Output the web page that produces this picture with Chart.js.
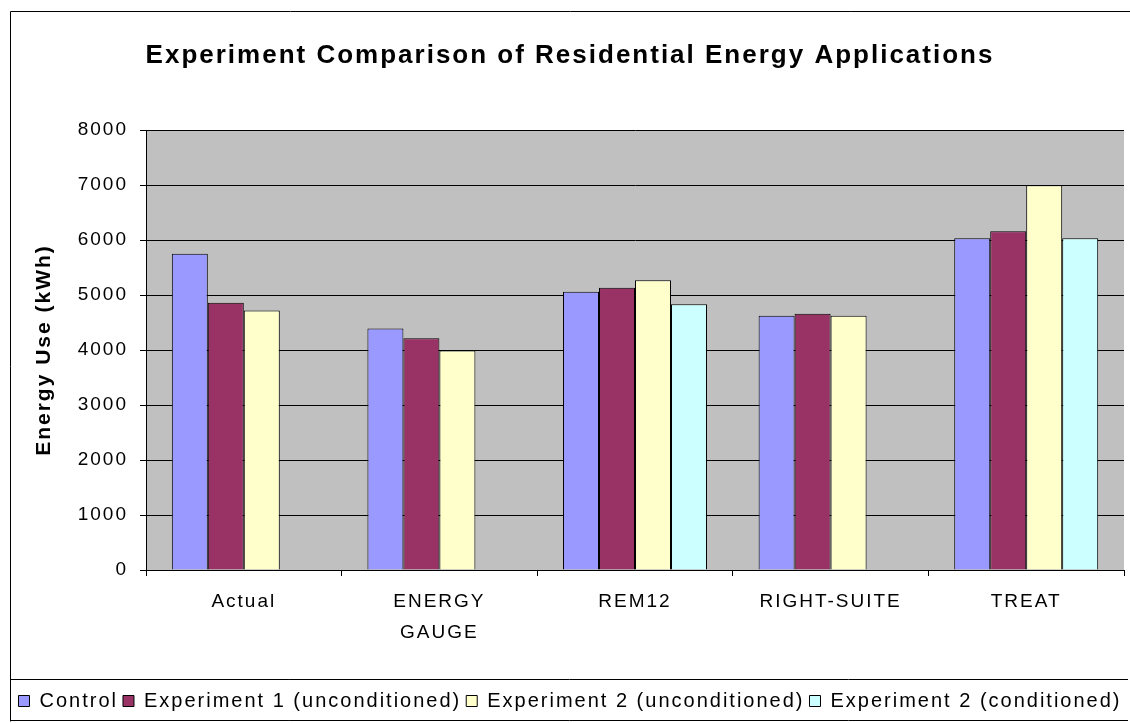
<!DOCTYPE html>
<html>
<head>
<meta charset="utf-8">
<script src="https://cdn.jsdelivr.net/npm/chart.js@4"></script>
<style>
  html, body { margin: 0; padding: 0; background: #ffffff; }
  canvas { display: block; }
</style>
</head>
<body>
<canvas id="c" width="1130" height="723"></canvas>
<script>
const categories = [['Actual'], ['ENERGY', 'GAUGE'], ['REM12'], ['RIGHT-SUITE'], ['TREAT']];
const seriesNames = ['Control', 'Experiment 1 (unconditioned)', 'Experiment 2 (unconditioned)', 'Experiment 2 (conditioned)'];
const controlValues = [5750, 4390, 5060, 4625, 6030];
const exp1Values = [4860, 4215, 5130, 4660, 6160];
const exp2UncondValues = [4720, 3990, 5270, 4625, 6995];
const exp2CondValues = [null, null, 4830, null, 6030];
const yTickValues = [0, 1000, 2000, 3000, 4000, 5000, 6000, 7000, 8000];

const FONT = "'Liberation Sans', Arial, sans-serif";
const SPACING = '2px';

const spacingPlugin = {
  id: 'spacing',
  beforeInit(chart) { chart.ctx.letterSpacing = SPACING; },
  beforeUpdate(chart) { chart.ctx.letterSpacing = SPACING; },
  beforeLayout(chart) { chart.ctx.letterSpacing = SPACING; },
  beforeDraw(chart) {
    const ctx = chart.ctx;
    ctx.letterSpacing = SPACING;
    const a = chart.chartArea;
    ctx.save();
    ctx.fillStyle = '#C0C0C0';
    ctx.fillRect(a.left, a.top, a.right - a.left, a.bottom - a.top);
    ctx.restore();
  },
  afterDraw(chart) {
    const ctx = chart.ctx;
    ctx.save();
    ctx.strokeStyle = '#000000';
    ctx.lineWidth = 1;
    ctx.beginPath();
    // outer chart border
    ctx.moveTo(10.5, 721.5); ctx.lineTo(10.5, 11.5); ctx.lineTo(1130, 11.5);
    // legend box
    ctx.moveTo(10.5, 679.5); ctx.lineTo(1128, 679.5);
    ctx.moveTo(10.5, 720.5); ctx.lineTo(1128, 720.5);
    ctx.stroke();
    ctx.restore();
  }
};

const colors = ['#9999FF', '#993366', '#FFFFCC', '#CCFFFF'];
const seriesValues = [controlValues, exp1Values, exp2UncondValues, exp2CondValues];

new Chart(document.getElementById('c'), {
  type: 'bar',
  data: {
    labels: categories,
    datasets: seriesValues.map((vals, i) => ({
      label: seriesNames[i],
      data: vals,
      backgroundColor: colors[i],
      borderColor: '#000000',
      borderWidth: 1,
      categoryPercentage: 0.736,
      barPercentage: 1.0,
      yAxisID: 'y'
    }))
  },
  plugins: [spacingPlugin],
  options: {
    responsive: false,
    animation: false,
    devicePixelRatio: 1,
    layout: { padding: { left: 10, right: 0, top: 11, bottom: 2 } },
    plugins: {
      tooltip: { enabled: false },
      title: {
        display: true,
        text: 'Experiment Comparison of Residential Energy Applications',
        color: '#000000',
        font: { family: FONT, size: 26, weight: 'bold', lineHeight: 1.2 },
        padding: { top: 29.4, bottom: 58.4 }
      },
      legend: {
        position: 'bottom',
        maxHeight: 37,
        labels: {
          color: '#000000',
          font: { family: FONT, size: 20 },
          boxWidth: 11,
          boxHeight: 11,
          padding: 5
        }
      }
    },
    scales: {
      x: {
        grid: {
          offset: true,
          drawOnChartArea: false,
          drawTicks: true,
          tickLength: 6,
          color: '#000000'
        },
        border: { color: '#000000', width: 1 },
        ticks: {
          color: '#000000',
          font: { family: FONT, size: 19, lineHeight: 1.63 },
          padding: 10,
          maxRotation: 0,
          autoSkip: false
        },
        afterFit(scale) { scale.height = 116; }
      },
      y: {
        min: 0,
        max: 8000,
        afterBuildTicks(scale) { scale.ticks = yTickValues.map(v => ({ value: v })); },
        grid: { color: '#000000', lineWidth: 1, tickLength: 6, drawTicks: true },
        border: { color: '#000000', width: 1 },
        ticks: {
          color: '#000000',
          font: { family: FONT, size: 19 },
          padding: 12,
          callback: (v) => String(v)
        },
        title: {
          display: true,
          text: 'Energy Use (kWh)',
          color: '#000000',
          font: { family: FONT, size: 21, weight: 'bold', lineHeight: 1.2 },
          padding: { top: 22, bottom: 0 }
        },
        afterFit(scale) { scale.width = 136; }
      },
      yRightSpacer: {
        position: 'right',
        min: 0,
        max: 8000,
        grid: { display: false, drawTicks: false },
        border: { display: false },
        ticks: { display: false },
        afterFit(scale) { scale.width = 6; }
      }
    }
  }
});
</script>
</body>
</html>
